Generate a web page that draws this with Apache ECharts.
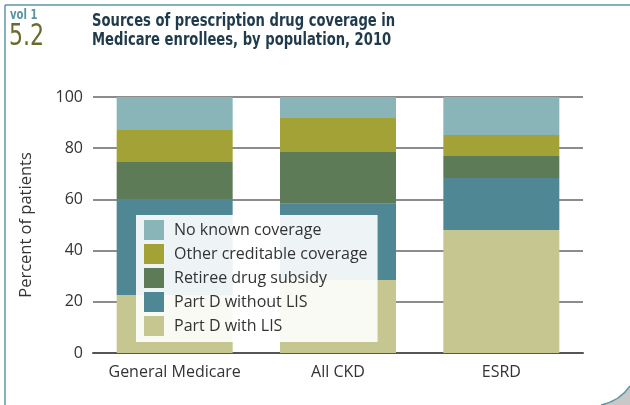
<!DOCTYPE html>
<html><head><meta charset="utf-8">
<script src="https://cdn.jsdelivr.net/npm/echarts@6/dist/echarts.min.js"></script>
<style>html,body{margin:0;padding:0;background:#fff}#c{width:630px;height:405px}</style>
</head><body><div id="c"></div>
<script>
const categories = ['General Medicare', 'All CKD', 'ESRD'];
const partDWithLIS = [22.7, 28.5, 48.0];
const partDWithoutLIS = [37.5, 29.8, 20.4];
const retireeSubsidy = [14.4, 20.2, 8.6];
const otherCreditable = [12.5, 13.3, 8.2];
const noKnown = [12.9, 8.2, 14.8];
const yTicks = [0, 20, 40, 60, 80, 100];

const font = '"Open Sans", "Noto Sans", sans-serif';
const cond = '"DejaVu Sans Condensed", "DejaVu Sans", sans-serif';
const chart = echarts.init(document.getElementById('c'), null, {renderer: 'canvas'});
const mk = (name, data, color) => ({
  name, type: 'bar', stack: 'a', data, barWidth: 116,
  itemStyle: {color}, emphasis: {disabled: true}
});
chart.setOption({
  animation: false,
  backgroundColor: '#fff',
  grid: {left: 93, right: 47, top: 97, bottom: 52},
  xAxis: {
    type: 'category', data: categories,
    axisLine: {lineStyle: {color: '#555', width: 2}},
    axisTick: {show: false},
    axisLabel: {color: '#333', fontSize: 16, fontFamily: font, margin: 11, interval: 0}
  },
  yAxis: {
    type: 'value', min: yTicks[0], max: yTicks[yTicks.length - 1], interval: 20,
    name: 'Percent of patients', nameLocation: 'middle', nameGap: 58,
    nameTextStyle: {color: '#333', fontSize: 16.5, fontFamily: font},
    axisLine: {show: false}, axisTick: {show: false},
    axisLabel: {color: '#333', fontSize: 16, fontFamily: font, margin: 10},
    splitLine: {lineStyle: {color: '#666', width: 1.5}}
  },
  legend: {
    orient: 'vertical', left: 136, top: 215,
    data: ['No known coverage', 'Other creditable coverage', 'Retiree drug subsidy', 'Part D without LIS', 'Part D with LIS'],
    icon: 'rect', itemWidth: 20, itemHeight: 20, itemGap: 4,
    padding: [5, 10, 6, 8],
    backgroundColor: 'rgba(255,255,255,0.9)',
    textStyle: {color: '#333', fontSize: 16, fontFamily: font, padding: [0, 0, 0, 5]},
    selectedMode: false
  },
  series: [
    mk('Part D with LIS', partDWithLIS, '#c6c690'),
    mk('Part D without LIS', partDWithoutLIS, '#4f8894'),
    mk('Retiree drug subsidy', retireeSubsidy, '#5e7b58'),
    mk('Other creditable coverage', otherCreditable, '#a3a236'),
    mk('No known coverage', noKnown, '#8ab5b8')
  ],
  graphic: [
    {type: 'line', shape: {x1: 5, y1: 5, x2: 630, y2: 5}, style: {stroke: '#5f96a6', lineWidth: 1.5}},
    {type: 'line', shape: {x1: 5, y1: 5, x2: 5, y2: 405}, style: {stroke: '#5f96a6', lineWidth: 1.5}},
    {type: 'polygon', shape: {points: [[601, 405], [609.9, 402.3], [617.75, 398.25], [624.4, 392.8], [630, 386], [630, 405]]}, style: {fill: '#c8c8c8'}},
    {type: 'bezierCurve', shape: {x1: 601, y1: 405, x2: 630, y2: 386, cpx1: 620, cpy1: 401}, style: {fill: null, stroke: '#5f96a6', lineWidth: 1.5}},
    {type: 'text', x: 10, y: 8, scaleX: 0.8, style: {text: 'vol 1', fill: '#5b93a2', font: 'bold 14px ' + cond}},
    {type: 'text', x: 9, y: 22, scaleX: 0.82, style: {text: '5.2', fill: '#6b6a2e', font: '30px ' + cond}},
    {type: 'text', x: 92, y: 12, scaleX: 0.86, style: {text: 'Sources of prescription drug coverage in\nMedicare enrollees, by population, 2010', lineHeight: 19, fill: '#1f3a4a', font: 'bold 17px ' + cond}}
  ]
});
</script></body></html>
